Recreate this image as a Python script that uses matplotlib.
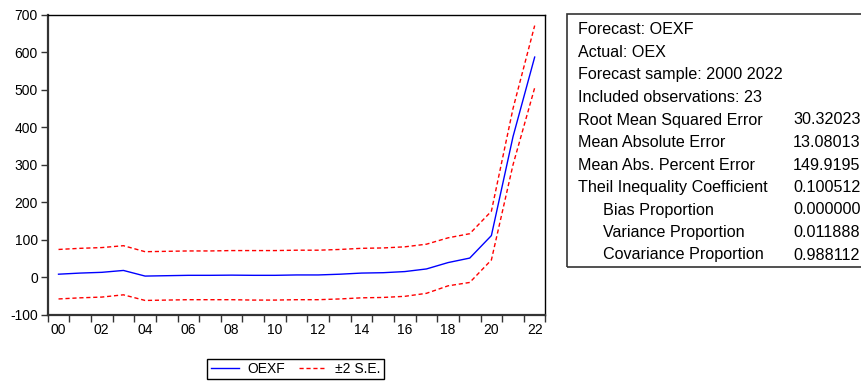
import matplotlib
matplotlib.use("Agg")
import matplotlib.pyplot as plt
from matplotlib.patches import Rectangle
import numpy as np

plt.rcParams['font.family'] = ['Liberation Sans', 'DejaVu Sans']
plt.rcParams['axes.unicode_minus'] = False

# forecast and +/- 2 S.E. band, 2000-2022
years = list(range(2000, 2023))
oexf = [8, 11, 13, 18, 3, 4, 5, 5, 5.5, 5, 5, 6, 6, 8, 11, 12, 15, 22, 39, 51, 111, 375, 587]
upper = [74, 77, 79, 84, 68, 69, 70, 70, 71, 71, 71, 72, 72, 74, 77, 78, 81, 88, 105, 116, 176, 450, 671]
lower = [-58, -55, -53, -47, -62, -61, -60, -60, -60, -61, -61, -60, -60, -58, -55, -54, -51, -43, -23, -14, 46, 300, 505]

header_lines = ["Forecast: OEXF", "Actual: OEX", "Forecast sample: 2000 2022", "Included observations: 23"]
stat_names = ["Root Mean Squared Error", "Mean Absolute Error", "Mean Abs. Percent Error",
              "Theil Inequality Coefficient", "Bias Proportion", "Variance Proportion",
              "Covariance Proportion"]
stat_indent = [False, False, False, False, True, True, True]
stat_values = ["30.32023", "13.08013", "149.9195", "0.100512", "0.000000", "0.011888", "0.988112"]

W, H = 862, 381
fig = plt.figure(figsize=(W / 100, H / 100), dpi=100)

def fx(px):
    return px / W

def fy(py):
    return 1 - py / H

ax = fig.add_axes([fx(47.7), fy(314.7), fx(545.5) - fx(47.7), fy(14.7) - fy(314.7)])

x = np.arange(len(years))
ax.plot(x, oexf, color='#0000ff', lw=1.0, label='OEXF')
ax.plot(x, upper, color='#ff0000', lw=1.0, ls=(0, (3, 2)), label='\u00b12 S.E.')
ax.plot(x, lower, color='#ff0000', lw=1.0, ls=(0, (3, 2)))

ax.set_xlim(-0.5, len(years) - 0.5)
ax.set_ylim(-100, 700)
ax.set_yticks(range(-100, 701, 100))
ax.set_xticks(x[::2])
ax.set_xticklabels([f"{y % 100:02d}" for y in years[::2]])
ax.set_xticks(np.arange(-0.5, len(years), 1), minor=True)
ax.tick_params(axis='x', which='major', length=0, pad=6, labelsize=10)
ax.tick_params(axis='x', which='minor', length=5, width=1, direction='out', color='#333333')
ax.tick_params(axis='y', length=5, width=1, direction='out', labelsize=10, pad=2, color='#333333')

for s in ['left', 'bottom']:
    ax.spines[s].set_linewidth(1.6)
    ax.spines[s].set_color('#333333')
for s in ['top', 'right']:
    ax.spines[s].set_linewidth(1.0)
    ax.spines[s].set_color('black')

fig.legend(loc='center', bbox_to_anchor=(fx(295.5), fy(369)), ncol=2, fontsize=10,
           frameon=True, fancybox=False, edgecolor='black', framealpha=1,
           handlelength=2.0, handletextpad=0.6, columnspacing=1.0,
           borderpad=0.25, borderaxespad=0)

# statistics box
fig.patches.append(Rectangle((fx(567), fy(267)), fx(900) - fx(567), fy(14) - fy(267),
                             transform=fig.transFigure, fill=False, edgecolor='#333333', lw=1.2))
fs = 11.6
for i, t in enumerate(header_lines):
    fig.text(fx(578), fy(30 + 22.5 * i), t, fontsize=fs, va='center', ha='left')
for j, (t, ind, v) in enumerate(zip(stat_names, stat_indent, stat_values)):
    yy = fy(30 + 22.5 * (j + len(header_lines)))
    fig.text(fx(603 if ind else 578), yy, t, fontsize=fs, va='center', ha='left')
    fig.text(fx(793), yy, v, fontsize=fs, va='center', ha='left')

fig.savefig('out.png', dpi=100)
